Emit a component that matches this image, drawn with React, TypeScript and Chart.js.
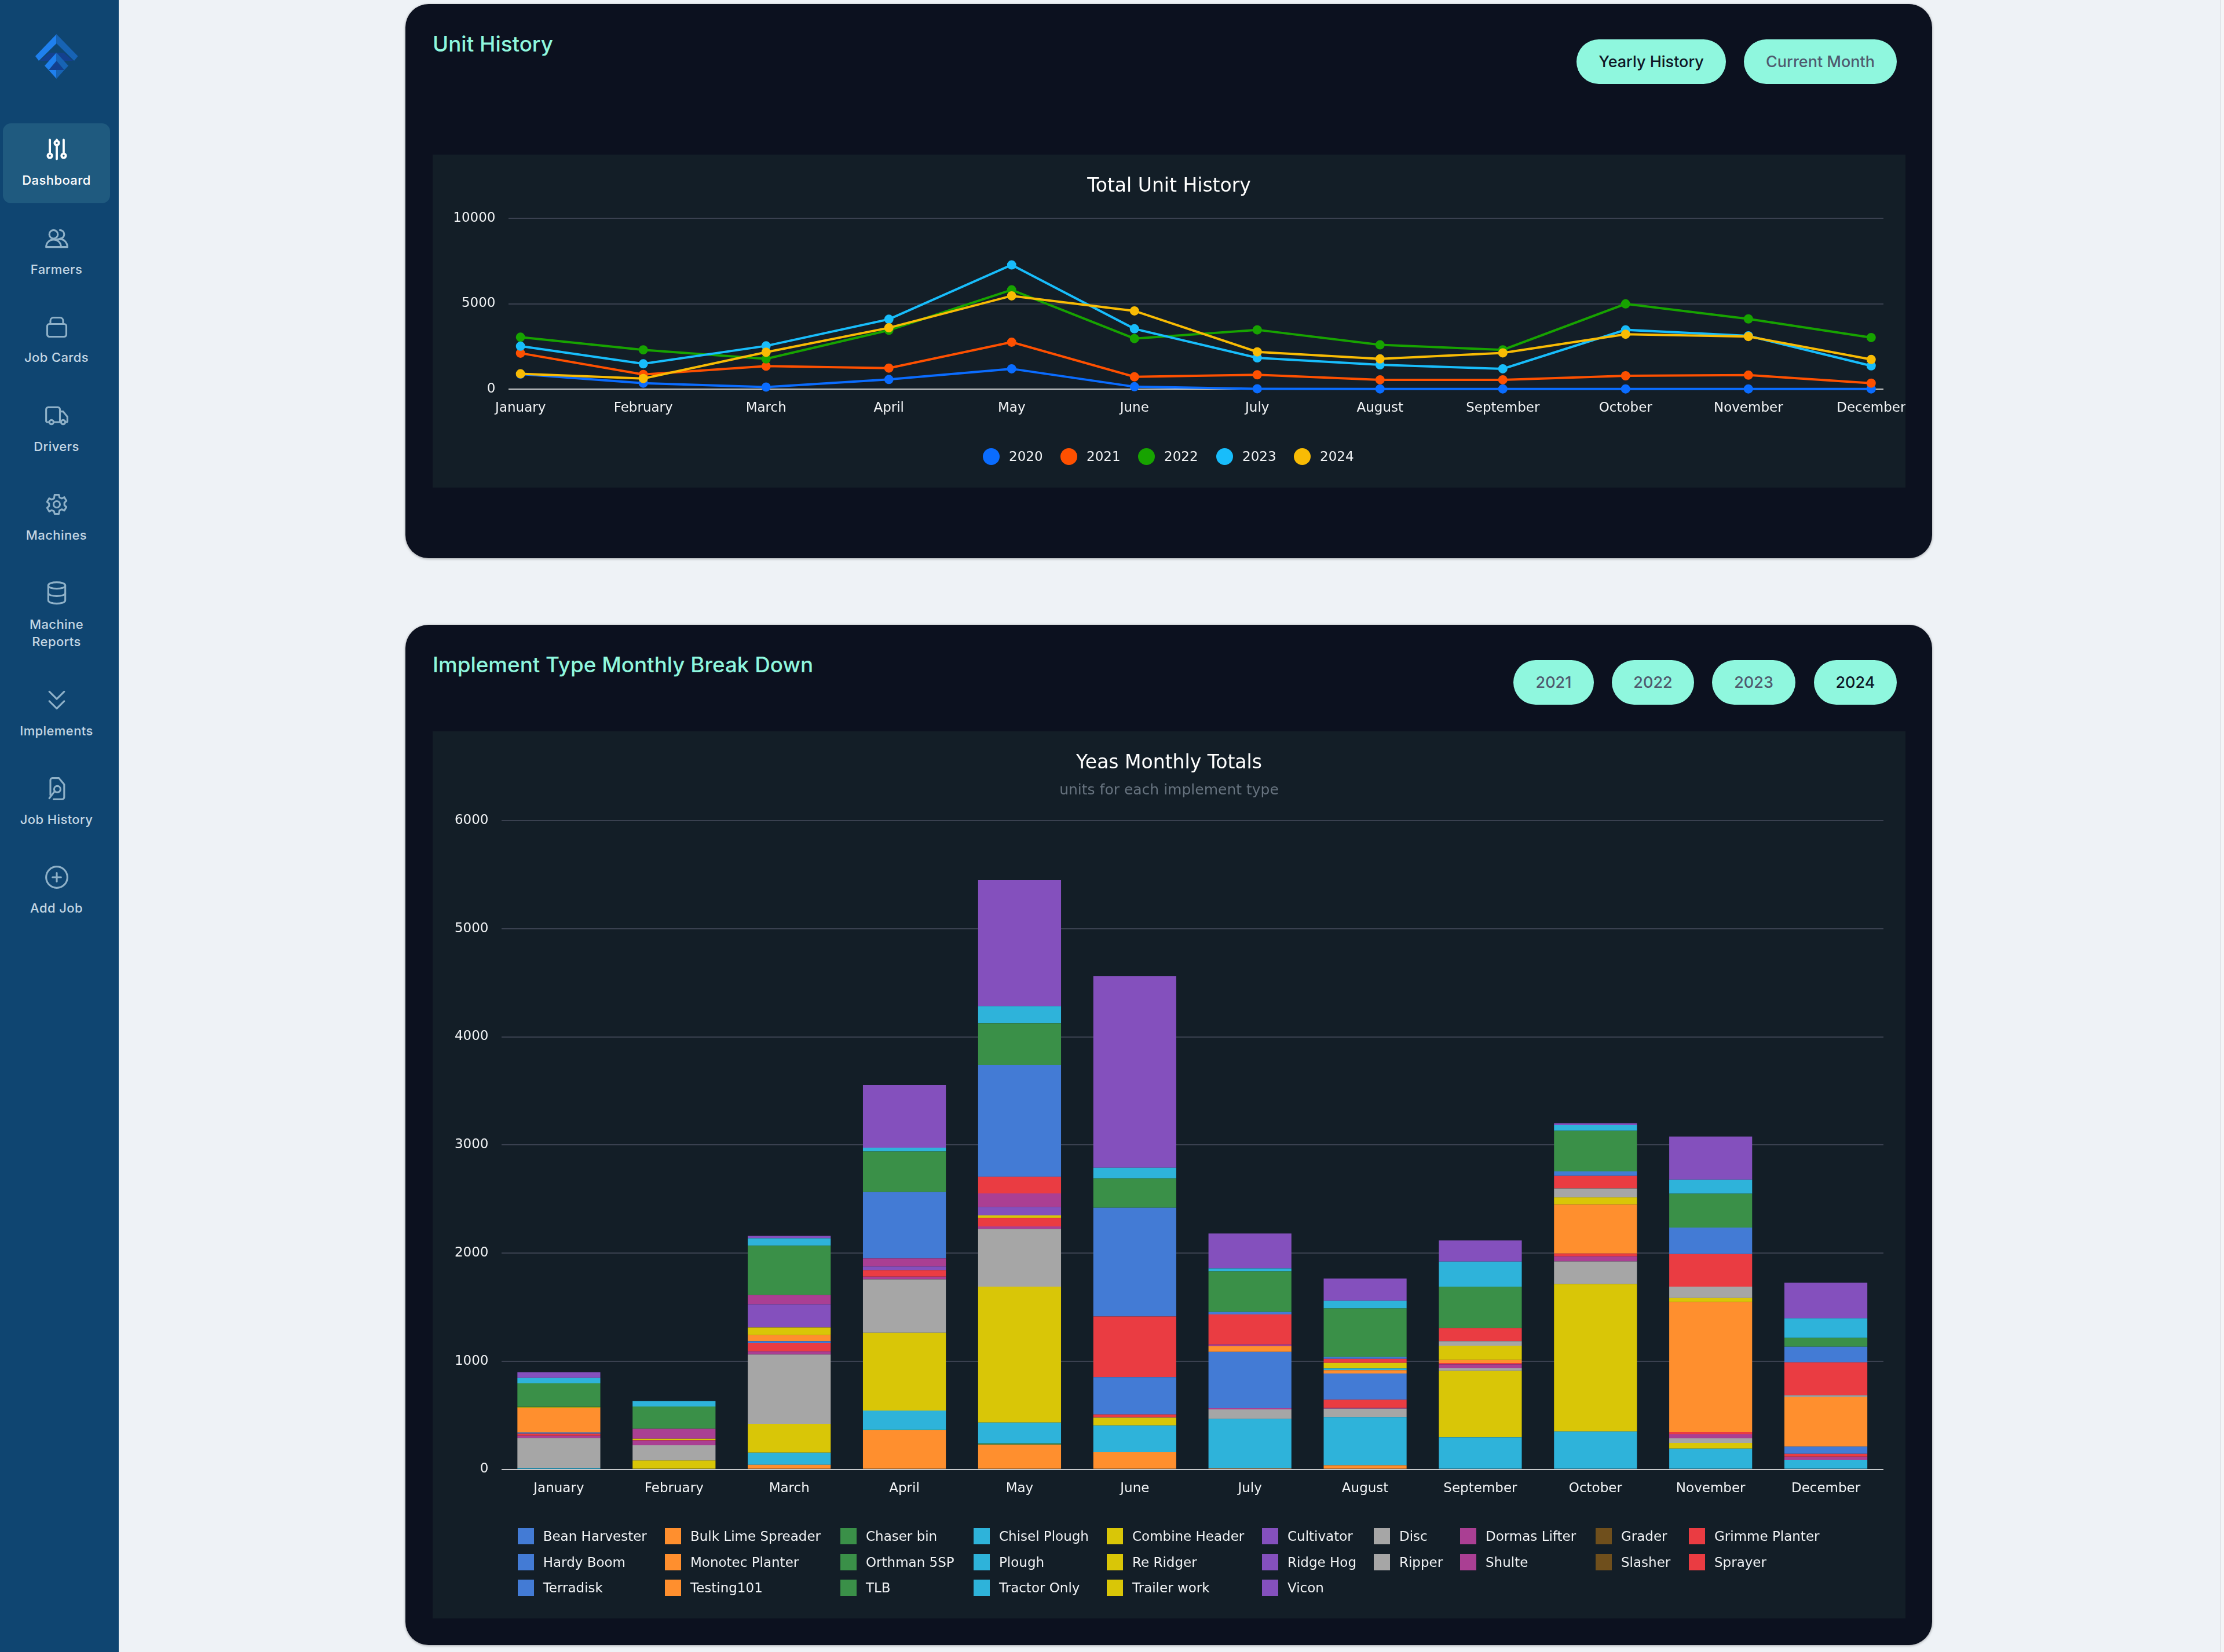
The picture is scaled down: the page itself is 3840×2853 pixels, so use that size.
import { useEffect, useRef } from "react"
import { Chart, registerables, type ChartConfiguration } from "chart.js"

Chart.register(...registerables)

const months = ["January", "February", "March", "April", "May", "June", "July", "August", "September", "October", "November", "December"]
const yearTicks = [0, 5000, 10000]
const years = ["2020", "2021", "2022", "2023", "2024"]
const yearColors = ["#0a6cff", "#fe5000", "#17a300", "#18bdfb", "#f8bb04"]

const units2020 = [880, 350, 120, 565, 1190, 140, 20, 10, 10, 10, 10, 10]
const units2021 = [2105, 860, 1345, 1230, 2750, 720, 840, 545, 545, 780, 820, 350]
const units2022 = [3040, 2300, 1770, 3450, 5810, 2960, 3470, 2590, 2300, 4990, 4110, 3020]
const units2023 = [2514, 1480, 2530, 4090, 7270, 3530, 1830, 1420, 1190, 3470, 3120, 1365]
const units2024 = [897, 620, 2160, 3590, 5460, 4580, 2180, 1770, 2120, 3215, 3080, 1735]
const unitSeries = [units2020, units2021, units2022, units2023, units2024]

const implementNames = [
  "Bean Harvester", "Bulk Lime Spreader", "Chaser bin", "Chisel Plough", "Combine Header", "Cultivator", "Disc", "Dormas Lifter", "Grader", "Grimme Planter",
  "Hardy Boom", "Monotec Planter", "Orthman 5SP", "Plough", "Re Ridger", "Ridge Hog", "Ripper", "Shulte", "Slasher", "Sprayer",
  "Terradisk", "Testing101", "TLB", "Tractor Only", "Trailer work", "Vicon",
]
const paletteColors = ["#437bd5", "#ff8f2e", "#3a9048", "#2eb3da", "#d9c607", "#8450bd", "#a6a6a6", "#aa3f93", "#6f4f1c", "#ea3c42"]

const beanHarvester = [0, 0, 0, 0, 0, 0, 0, 0, 0, 0, 0, 0]
const bulkLime = [5, 0, 41, 361, 229, 158, 9, 38, 0, 0, 0, 0]
const chaserBin = [0, 0, 0, 6, 11, 0, 0, 0, 0, 0, 0, 0]
const chiselPlough = [8, 0, 113, 177, 192, 248, 458, 445, 296, 349, 191, 89]
const combineHeader = [0, 82, 267, 719, 1257, 71, 0, 0, 614, 1364, 53, 0]
const cultivator = [0, 0, 0, 0, 0, 0, 0, 0, 0, 0, 0, 0]
const disc = [278, 140, 640, 493, 534, 4, 87, 78, 24, 209, 42, 0]
const dormasLifter = [20, 44, 30, 26, 23, 0, 11, 7, 36, 47, 38, 27]
const grader = [0, 0, 0, 0, 0, 0, 0, 0, 0, 0, 0, 0]
const grimmePlanter = [20, 5, 79, 60, 79, 26, 0, 76, 13, 27, 22, 27]
const hardyBoom = [10, 0, 15, 0, 0, 346, 521, 242, 0, 0, 0, 67]
const monotecPlanter = [225, 0, 56, 0, 0, 0, 53, 31, 29, 452, 1201, 458]
const orthman = [0, 0, 0, 0, 0, 0, 0, 0, 0, 0, 0, 0]
const plough = [0, 0, 0, 0, 0, 0, 0, 16, 0, 0, 0, 0]
const reRidger = [8, 11, 71, 0, 23, 0, 0, 51, 131, 67, 36, 0]
const ridgeHog = [0, 0, 214, 34, 79, 0, 0, 0, 0, 0, 0, 0]
const ripper = [0, 0, 0, 0, 0, 0, 0, 0, 42, 82, 107, 18]
const shulte = [0, 93, 87, 75, 124, 0, 16, 0, 0, 0, 0, 0]
const slasher = [3, 0, 0, 0, 0, 0, 0, 0, 0, 0, 0, 0]
const sprayer = [0, 0, 0, 0, 154, 561, 278, 38, 122, 116, 300, 303]
const terradisk = [0, 0, 0, 613, 1035, 1005, 22, 18, 0, 42, 245, 145]
const testing101 = [0, 0, 0, 0, 0, 0, 0, 0, 0, 0, 0, 0]
const tlb = [218, 206, 455, 376, 384, 271, 376, 449, 383, 376, 314, 82]
const tractorOnly = [50, 49, 68, 34, 158, 98, 27, 69, 231, 53, 129, 180]
const trailerWork = [0, 0, 0, 0, 0, 0, 0, 0, 0, 0, 0, 0]
const vicon = [52, 0, 23, 579, 1166, 1772, 323, 207, 196, 16, 400, 329]
const implementSeries = [
  beanHarvester, bulkLime, chaserBin, chiselPlough, combineHeader, cultivator, disc, dormasLifter, grader, grimmePlanter,
  hardyBoom, monotecPlanter, orthman, plough, reRidger, ridgeHog, ripper, shulte, slasher, sprayer,
  terradisk, testing101, tlb, tractorOnly, trailerWork, vicon,
]

const CHART_FONT = "'DejaVu Sans', sans-serif"
const UI_FONT = "Inter, sans-serif"
const TICK_COLOR = "#f2f4f6"
const GRID_COLOR = "#3a4150"
const ZERO_COLOR = "#c6c8ca"
const MINT = "#8ff7de"

const gridColor = (ctx: any) => (ctx.tick && ctx.tick.value === 0 ? ZERO_COLOR : GRID_COLOR)

// x axis keeps a fixed height, and its labels must not eat into the plot width
const fixXAxis = (scale: any) => {
  scale.height = 47
  scale.paddingLeft = 0
  scale.paddingRight = 0
}

function lineConfig(): ChartConfiguration {
  return {
    type: "line",
    data: {
      datasets: years.map((year, s) => ({
        label: year,
        data: unitSeries[s].map((y, i) => ({ x: i, y })),
        borderColor: yearColors[s],
        backgroundColor: yearColors[s],
        borderWidth: 4,
        pointRadius: 6,
        tension: 0,
        // later years sit on top
        order: years.length - s,
        clip: false as any,
      })),
    },
    options: {
      responsive: false,
      devicePixelRatio: 1,
      animation: false,
      layout: { padding: { left: 38, right: 38, top: 0, bottom: 123 } },
      plugins: {
        legend: { display: false },
        tooltip: { enabled: false },
        title: {
          display: true,
          text: "Total Unit History",
          color: "#ffffff",
          font: { family: CHART_FONT, size: 33, weight: "normal" },
          padding: { top: 36, bottom: 34.400 },
        },
      },
      scales: {
        x: {
          type: "linear",
          min: -0.1,
          max: 11.1,
          grid: { display: false, drawTicks: false },
          border: { display: false },
          afterFit: fixXAxis,
          afterBuildTicks: (scale: any) => {
            scale.ticks = months.map((_, i) => ({ value: i }))
          },
          ticks: {
            autoSkip: false,
            maxRotation: 0,
            padding: 19,
            color: TICK_COLOR,
            font: { family: CHART_FONT, size: 23 },
            callback: (v: any) => months[v],
          },
        },
        y: {
          min: 0,
          max: 10000,
          afterFit: (scale: any) => {
            scale.width = 92.500
          },
          afterBuildTicks: (scale: any) => {
            scale.ticks = yearTicks.map((value) => ({ value }))
          },
          grid: { color: gridColor, lineWidth: 2, drawTicks: false },
          border: { display: false },
          ticks: {
            padding: 22,
            color: TICK_COLOR,
            font: { family: CHART_FONT, size: 23 },
            callback: (v: any) => String(v),
          },
        },
      },
    },
  }
}

function barConfig(): ChartConfiguration {
  return {
    type: "bar",
    data: {
      labels: months,
      datasets: implementNames.map((name, s) => ({
        label: name,
        data: implementSeries[s],
        backgroundColor: paletteColors[s % paletteColors.length],
        borderWidth: 0,
      })),
    },
    options: {
      responsive: false,
      devicePixelRatio: 1,
      animation: false,
      layout: { padding: { left: 38, right: 38, top: 0, bottom: 210.500 } },
      plugins: {
        legend: { display: false },
        tooltip: { enabled: false },
        title: {
          display: true,
          text: "Yeas Monthly Totals",
          color: "#ffffff",
          font: { family: CHART_FONT, size: 33, weight: "normal" },
          padding: { top: 36, bottom: 12 },
        },
        subtitle: {
          display: true,
          text: "units for each implement type",
          color: "#67737f",
          font: { family: CHART_FONT, size: 25, weight: "normal" },
          padding: { top: 0, bottom: 36.400 },
        },
      },
      scales: {
        x: {
          stacked: true,
          grid: { display: false, drawTicks: false },
          border: { display: false },
          afterFit: fixXAxis,
          ticks: {
            autoSkip: false,
            maxRotation: 0,
            padding: 20,
            color: TICK_COLOR,
            font: { family: CHART_FONT, size: 23 },
          },
        },
        y: {
          stacked: true,
          min: 0,
          max: 6000,
          afterFit: (scale: any) => {
            scale.width = 80.500
          },
          grid: { color: gridColor, lineWidth: 2, drawTicks: false },
          border: { display: false },
          ticks: {
            stepSize: 1000,
            padding: 22,
            color: TICK_COLOR,
            font: { family: CHART_FONT, size: 23 },
            callback: (v: any) => String(v),
          },
        },
      },
    },
  }
}

function ChartCanvas({ config, left, top, width, height }: { config: () => ChartConfiguration; left: number; top: number; width: number; height: number }) {
  const canvasRef = useRef<HTMLCanvasElement>(null)

  useEffect(() => {
    if (!canvasRef.current) return
    const chart = new Chart(canvasRef.current, config())
    return () => chart.destroy()
  }, [config])

  return <canvas ref={canvasRef} width={width} height={height} style={{ position: "absolute", left, top, width, height }} />
}

const iconPaths: Record<string, string[]> = {
  Farmers: ["M9 4a4 4 0 1 1 0 8a4 4 0 0 1 0-8z", "M15 4a4 4 0 1 1 0 8", "M2 20c0-4 3-7 7-7s7 3 7 7z", "M12 13c1-.5 2-.5 3-.5c4 0 7 3.500 7 7.500h-6"],
  "Job Cards": ["M3 11a2 2 0 0 1 2-2h14a2 2 0 0 1 2 2v8a2 2 0 0 1-2 2H5a2 2 0 0 1-2-2z", "M6 9V6a3 3 0 0 1 3-3h6a3 3 0 0 1 3 3v3"],
  Drivers: ["M5 18H3a1 1 0 0 1-1-1V6a2 2 0 0 1 2-2h9a2 2 0 0 1 2 2v12H9", "M15 8h3l4 5v4a1 1 0 0 1-1 1h-1", "M7 16a2 2 0 1 1 0 4a2 2 0 0 1 0-4z", "M18 16a2 2 0 1 1 0 4a2 2 0 0 1 0-4z"],
  Machines: ["M12 9a3 3 0 1 1 0 6a3 3 0 0 1 0-6z", "M10 3h4l.6 2.500l2.200 1l2.300-1.200l2 3.400l-1.900 1.700v2.400l1.900 1.700l-2 3.400l-2.300-1.200l-2.200 1L14 21h-4l-.6-2.500l-2.200-1l-2.300 1.200l-2-3.400l1.900-1.700v-2.400L2.900 9.700l2-3.400l2.300 1.200l2.200-1z"],
  "Machine Reports": ["M4 5c0-4 16-4 16 0s-16 4-16 0z", "M4 5v14c0 4 16 4 16 0V5", "M4 12c0 4 16 4 16 0"],
  Implements: ["M5 4l7 7l7-7", "M5 13l7 7l7-7"],
  "Job History": ["M6 18V4a2 2 0 0 1 2-2h6l5 6v12a2 2 0 0 1-2 2H9", "M12.500 9.500a3 3 0 1 1 0 6a3 3 0 0 1 0-6z", "M10 14.500L5 21"],
  "Add Job": ["M12 2a10 10 0 1 1 0 20a10 10 0 0 1 0-20z", "M12 8v8", "M8 12h8"],
}

const navItems = [
  { label: ["Dashboard"], iconTop: 236, textTop: 311, active: true },
  { label: ["Farmers"], iconTop: 390, textTop: 465 },
  { label: ["Job Cards"], iconTop: 543, textTop: 617 },
  { label: ["Drivers"], iconTop: 696, textTop: 771 },
  { label: ["Machines"], iconTop: 849, textTop: 924 },
  { label: ["Machine", "Reports"], iconTop: 1002, textTop: 1078 },
  { label: ["Implements"], iconTop: 1187, textTop: 1262 },
  { label: ["Job History"], iconTop: 1340, textTop: 1415 },
  { label: ["Add Job"], iconTop: 1493, textTop: 1568 },
]

function NavIcon({ name, color }: { name: string; color: string }) {
  if (name === "Dashboard") {
    return (
      <svg width={44} height={44} viewBox="0 0 24 24" fill="none" stroke={color} strokeWidth={2.100} strokeLinecap="round" style={{ display: "block" }}>
        <path d="M5.500 3v12M12 3v1M12 9v12M18.500 3v12" />
        <circle cx={5.500} cy={18} r={2} />
        <circle cx={12} cy={6} r={2} />
        <circle cx={18.500} cy={18} r={2} />
      </svg>
    )
  }
  return (
    <svg width={44} height={44} viewBox="0 0 24 24" fill="none" stroke={color} strokeWidth={1.700} strokeLinecap="round" strokeLinejoin="round" style={{ display: "block" }}>
      {iconPaths[name].map((d) => (
        <path key={d} d={d} />
      ))}
    </svg>
  )
}

function Sidebar() {
  return (
    <div style={{ position: "absolute", left: 0, top: 0, width: 205, height: 2853, background: "#0f4571" }}>
      <svg width={205} height={150} style={{ position: "absolute", left: 0, top: 0 }}>
        <polygon points="69,105 126,105 110,91 85,91" fill="#13408f" />
        <polygon points="97.500,59 61,97 67,105 97.500,75" fill="#1f80ee" />
        <polygon points="97.500,59 134.500,97 128,105 97.500,75" fill="#1763b4" />
        <polygon points="84,121 111,121 97.500,105" fill="#13408f" />
        <polygon points="97.500,91 77,113.500 84,121 97.500,105" fill="#1f80ee" />
        <polygon points="97.500,91 118,113.500 111,121 97.500,105" fill="#1763b4" />
        <polygon points="84,121 97.500,121 97.500,136" fill="#1f80ee" />
        <polygon points="97.500,121 111,121 97.500,136" fill="#1763b4" />
      </svg>
      <div style={{ position: "absolute", left: 5, top: 213, width: 185, height: 138, borderRadius: 14, background: "#1f5a7f" }} />
      {navItems.map((item) => (
        <div key={item.label.join(" ")}>
          <div style={{ position: "absolute", left: 75.500, top: item.iconTop }}>
            <NavIcon name={item.label.join(" ")} color={item.active ? "#ffffff" : "#8fb1c8"} />
          </div>
          {item.label.map((line, i) => (
            <div
              key={line}
              style={{
                position: "absolute",
                left: 0,
                width: 195,
                top: item.textTop - 15 + i * 30,
                lineHeight: "30px",
                textAlign: "center",
                fontFamily: UI_FONT,
                fontWeight: 500,
                fontSize: 22,
                letterSpacing: 0.4,
                color: item.active ? "#ffffff" : "#c3d6e3",
              }}
            >
              {line}
            </div>
          ))}
        </div>
      ))}
    </div>
  )
}

function Pill({ label, left, right, top, active }: { label: string; left: number; right: number; top: number; active?: boolean }) {
  return (
    <div
      style={{
        position: "absolute",
        left,
        top,
        width: right - left,
        height: 77,
        borderRadius: 39,
        background: MINT,
        textAlign: "center",
        lineHeight: "77px",
        fontFamily: UI_FONT,
        fontWeight: 500,
        fontSize: 27,
        color: active ? "#0e1626" : "#4f5a6e",
      }}
    >
      {label}
    </div>
  )
}

function Heading({ text, top }: { text: string; top: number }) {
  return (
    <div style={{ position: "absolute", left: 747, top: top - 25, lineHeight: "50px", fontFamily: UI_FONT, fontWeight: 500, fontSize: 36.800, color: MINT, whiteSpace: "nowrap" }}>
      {text}
    </div>
  )
}

function Card({ top, height }: { top: number; height: number }) {
  return <div style={{ position: "absolute", left: 700, top, width: 2636, height, borderRadius: 40, background: "#0c111f", boxShadow: "0 1px 4px rgba(0,0,0,0.35)" }} />
}

function Panel({ top, height }: { top: number; height: number }) {
  return <div style={{ position: "absolute", left: 747, top, width: 2543, height, background: "#131e27" }} />
}

const yearLegendCenters = [1711, 1845, 1979, 2114, 2248]
const implementColumnLefts = [893.7, 1148, 1451, 1681, 1911, 2179, 2372, 2521, 2755, 2916]
const implementRowCenters = [2653, 2698, 2742]

const legendText = { position: "absolute", lineHeight: "30px", fontFamily: CHART_FONT, fontSize: 23, color: "#f0f2f4", whiteSpace: "nowrap" } as const

export default function App() {
  useEffect(() => {
    document.body.style.margin = "0"
  }, [])

  return (
    <div style={{ position: "relative", width: 3840, height: 2853, overflow: "hidden", background: "#eef2f6" }}>
      <Sidebar />
      {/* scrollbar track on the far right */}
      <div style={{ position: "absolute", left: 3833, top: 0, width: 7, height: 2853, background: "#f4f5f7", borderLeft: "2px solid #e2e5e9", boxSizing: "border-box" }} />

      <Card top={7} height={957} />
      <Heading text="Unit History" top={76} />
      <Pill label="Yearly History" left={2722} right={2980} top={68} active />
      <Pill label="Current Month" left={3011} right={3275} top={68} />
      <Panel top={267} height={575} />
      <ChartCanvas config={lineConfig} left={747} top={267} width={2543} height={575} />
      {years.map((year, i) => (
        <div key={year}>
          <div style={{ position: "absolute", left: yearLegendCenters[i] - 14.500, top: 788 - 14.500, width: 29, height: 29, borderRadius: "50%", background: yearColors[i] }} />
          <div style={{ ...legendText, left: yearLegendCenters[i] + 31, top: 788 - 15 }}>{year}</div>
        </div>
      ))}

      <Card top={1079} height={1762} />
      <Heading text="Implement Type Monthly Break Down" top={1148} />
      {["2021", "2022", "2023", "2024"].map((year, i) => (
        <Pill key={year} label={year} left={[2613, 2783, 2956, 3132][i]} right={[2752, 2925, 3100, 3275][i]} top={1140} active={year === "2024"} />
      ))}
      <Panel top={1263} height={1532} />
      <ChartCanvas config={barConfig} left={747} top={1263} width={2543} height={1532} />
      {implementNames.map((name, i) => {
        const left = implementColumnLefts[i % 10]
        const center = implementRowCenters[Math.floor(i / 10)]
        return (
          <div key={name}>
            <div style={{ position: "absolute", left, top: center - 14, width: 28, height: 28, background: paletteColors[i % 10] }} />
            <div style={{ ...legendText, left: left + 44, top: center - 15 }}>{name}</div>
          </div>
        )
      })}
    </div>
  )
}
